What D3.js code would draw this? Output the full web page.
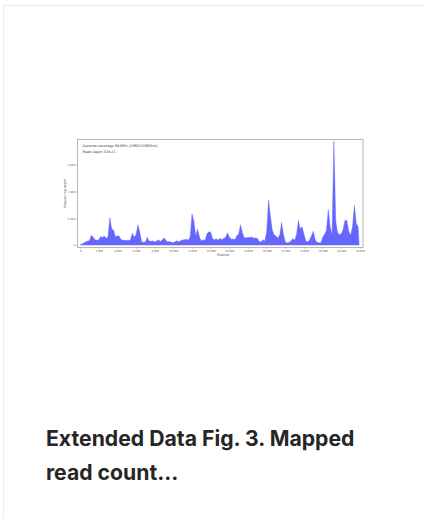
<!DOCTYPE html>
<html>
<head>
<meta charset="utf-8">
<script src="https://cdn.jsdelivr.net/npm/d3@7"></script>
<style>
  html, body { margin: 0; padding: 0; background: #fff; width: 424px; height: 518px; overflow: hidden; }
  .card { position: absolute; left: 3px; top: 5px; width: 440px; height: 540px;
          border: 1px solid #ececec; border-radius: 3px; box-shadow: 0 0 2px rgba(0,0,0,0.04); background: #fff; }
  .caption { position: absolute; left: 46px; top: 421px; width: 320px;
             font-family: Inter, "Noto Sans", sans-serif; font-weight: 700; font-size: 21.2px;
             line-height: 34px; color: #262626; }
  svg { position: absolute; left: 0; top: 0; }
</style>
</head>
<body>
<div class="card"></div>
<div class="caption">Extended Data Fig. 3. Mapped read count...</div>
<script>
// sequencing depth along the genome (200 nt bins)
var positions = [0,200,400,600,800,1000,1200,1400,1600,1800,2000,2200,2400,2600,2800,3000,3200,3400,3600,3800,
  4000,4200,4400,4600,4800,5000,5200,5400,5600,5800,6000,6200,6400,6600,6800,7000,7200,7400,7600,7800,
  8000,8200,8400,8600,8800,9000,9200,9400,9600,9800,10000,10200,10400,10600,10800,11000,11200,11400,11600,11800,
  12000,12200,12400,12600,12800,13000,13200,13400,13600,13800,14000,14200,14400,14600,14800,15000,15200,15400,15600,15800,
  16000,16200,16400,16600,16800,17000,17200,17400,17600,17800,18000,18200,18400,18600,18800,19000,19200,19400,19600,19800,
  20000,20200,20400,20600,20800,21000,21200,21400,21600,21800,22000,22200,22400,22600,22800,23000,23200,23400,23600,23800,
  24000,24200,24400,24600,24800,25000,25200,25400,25600,25800,26000,26200,26400,26600,26800,27000,27200,27400,27600,27800,
  28000,28200,28400,28600,28800,29000,29200,29400,29600,29800,29903];
var depth = [0,40,80,120,150,160,360,300,200,180,190,320,280,340,250,320,1020,600,560,300,
  350,330,200,190,170,180,170,200,440,300,380,760,500,130,100,120,290,150,140,160,
  120,150,200,130,200,270,180,120,130,110,90,130,160,120,170,190,200,220,180,300,
  1170,900,350,590,300,150,200,180,420,500,480,250,200,230,190,250,200,260,280,460,
  300,220,230,200,350,420,760,450,280,270,290,280,300,260,270,250,130,120,200,150,
  500,1690,1100,560,400,330,270,380,850,400,120,80,100,150,250,180,400,920,600,690,
  400,150,120,200,350,520,200,100,90,80,300,400,550,1330,700,380,3900,900,450,400,
  420,600,940,900,500,380,700,1500,800,690,0];

var xTicks = [0,2000,4000,6000,8000,10000,12000,14000,16000,18000,20000,22000,24000,26000,28000,30000];
var yTicks = [0,1000,2000,3000];
var infoLines = ["Genome coverage 99.99% (29901/29903nt)", "Mean depth 328.21"];

var data = positions.map(function(p, i) { return {pos: p, depth: depth[i]}; });

// plot frame inside the page
var frame = {left: 77.3, right: 363, top: 139.3, bottom: 247.5};

var x = d3.scaleLinear().domain([-290, 30320]).range([frame.left, frame.right]);
var y = d3.scaleLinear().domain([-90, 3960]).range([frame.bottom, frame.top]);

var svg = d3.select("body").append("svg")
    .attr("width", 424)
    .attr("height", 518);

var g = svg.append("g");

// filled coverage
g.append("path")
    .datum(data)
    .attr("fill", "#6666ff")
    .attr("stroke", "#6666ff")
    .attr("stroke-width", 0.4)
    .attr("d", d3.area()
        .x(function(d) { return x(d.pos); })
        .y0(y(0))
        .y1(function(d) { return y(d.depth); }));

// frame
g.append("rect")
    .attr("x", frame.left).attr("y", frame.top)
    .attr("width", frame.right - frame.left).attr("height", frame.bottom - frame.top)
    .attr("fill", "none").attr("stroke", "#8a8a8a").attr("stroke-width", 0.6);

// axes
var xAxis = g.append("g")
    .attr("transform", "translate(0," + frame.bottom + ")")
    .call(d3.axisBottom(x).tickValues(xTicks).tickSize(1.2).tickPadding(1));
var yAxis = g.append("g")
    .attr("transform", "translate(" + frame.left + ",0)")
    .call(d3.axisLeft(y).tickValues(yTicks).tickSize(1.2).tickPadding(1));

[xAxis, yAxis].forEach(function(a) {
  a.select(".domain").remove();
  a.selectAll("line").attr("stroke", "#666").attr("stroke-width", 0.4);
  a.selectAll("text").attr("fill", "#555").style("font-size", "2.6px")
    .style("font-family", "DejaVu Sans, sans-serif");
});

// axis titles
g.append("text")
    .attr("x", (frame.left + frame.right) / 2 + 3)
    .attr("y", 256)
    .attr("text-anchor", "middle")
    .style("font-family", "DejaVu Sans, sans-serif").style("font-size", "3.2px").attr("fill", "#444")
    .text("Position");
g.append("text")
    .attr("transform", "translate(66," + ((frame.top + frame.bottom) / 2) + ") rotate(-90)")
    .attr("text-anchor", "middle")
    .style("font-family", "DejaVu Sans, sans-serif").style("font-size", "3.2px").attr("fill", "#444")
    .text("Sequencing depth");

// info text in the upper left
g.selectAll(".info")
    .data(infoLines)
    .enter().append("text")
    .attr("class", "info")
    .attr("x", 82.5)
    .attr("y", function(d, i) { return 147 + i * 5.7; })
    .style("font-family", "DejaVu Sans, sans-serif").style("font-size", "3.4px").attr("fill", "#333")
    .text(function(d) { return d; });
</script>
</body>
</html>
